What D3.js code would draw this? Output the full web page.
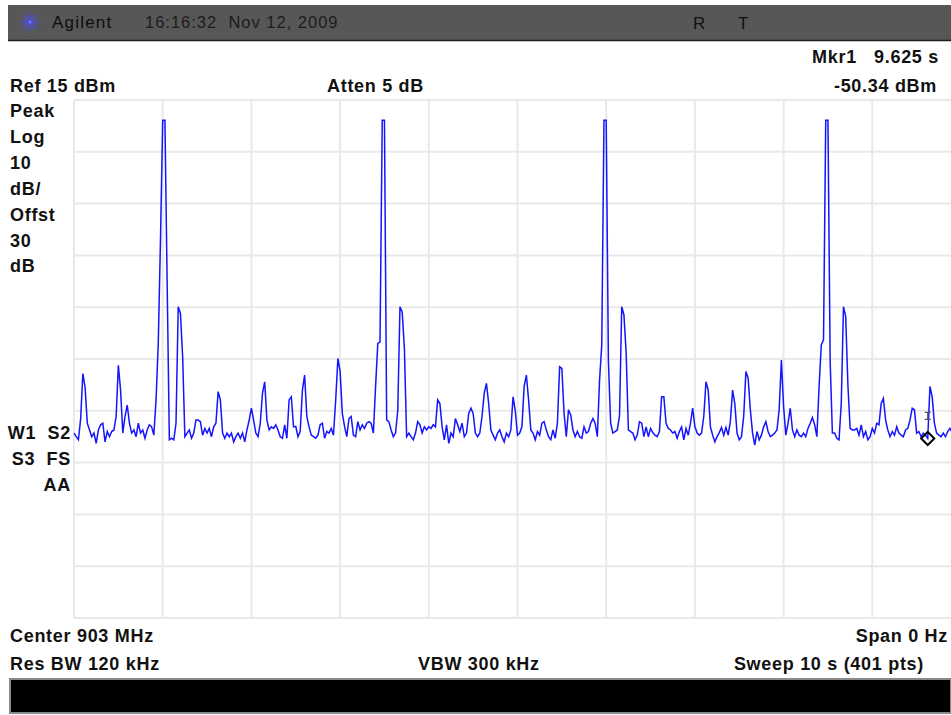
<!DOCTYPE html>
<html>
<head>
<meta charset="utf-8">
<script src="https://cdn.jsdelivr.net/npm/d3@7"></script>
<style>
  body { margin: 0; background: #ffffff; }
  svg { display: block; }
  text { font-family: "Liberation Sans", Arial, sans-serif; }
</style>
</head>
<body>
<svg id="chart" width="951" height="715"></svg>
<script>
// Zero-span sweep: 401 trace points over 10 s, amplitude in dBm
const sweepSeconds = 10;
const traceDbm = [
  -49.3, -50.0, -50.6, -46.5, -37.8, -40.5, -47.4, -48.7, -50.0, -49.3,
  -51.3, -48.7, -47.7, -47.4, -51.0, -49.0, -50.0, -49.0, -48.7, -46.1,
  -36.2, -41.0, -49.3, -46.1, -43.9, -47.4, -49.3, -48.7, -50.0, -47.4,
  -49.3, -48.7, -50.3, -48.7, -47.7, -48.1, -49.7, -42.9, -32.0, -12.0,
   11.1,  11.1, -20.1, -50.6, -50.3, -50.6, -47.4, -24.9, -26.2, -34.6,
  -50.0, -49.3, -48.7, -50.3, -49.3, -46.8, -46.8, -47.1, -49.7, -48.4,
  -49.3, -48.4, -50.0, -48.1, -47.4, -41.3, -42.9, -49.3, -50.3, -49.3,
  -50.0, -49.3, -51.0, -50.0, -49.3, -50.3, -49.3, -51.0, -48.7, -46.8,
  -44.5, -46.8, -49.3, -50.0, -47.4, -41.6, -39.4, -46.8, -48.7, -48.1,
  -48.4, -47.7, -48.7, -50.0, -50.3, -47.7, -50.3, -42.9, -42.3, -48.1,
  -48.0, -50.0, -49.0, -41.0, -38.1, -46.1, -48.1, -49.7, -50.0, -50.3,
  -49.7, -47.7, -47.4, -50.3, -49.0, -49.3, -48.4, -49.7, -43.0, -34.9,
  -37.4, -45.5, -48.0, -50.0, -46.5, -46.1, -49.7, -50.0, -47.1, -48.7,
  -47.7, -48.4, -47.4, -47.1, -47.4, -49.3, -40.3, -32.0, -31.7,  11.1,
   11.1, -46.8, -47.1, -48.7, -50.0, -49.3, -45.0, -24.9, -25.9, -33.0,
  -50.0, -49.3, -50.0, -50.6, -49.3, -47.1, -47.7, -49.3, -48.1, -48.7,
  -48.1, -48.4, -47.7, -48.1, -42.9, -43.6, -48.1, -50.6, -47.7, -51.3,
  -49.3, -50.0, -46.5, -47.7, -49.0, -47.4, -50.0, -49.3, -45.5, -44.5,
  -45.5, -49.3, -50.0, -49.3, -46.1, -41.6, -39.7, -43.6, -48.7, -49.7,
  -50.6, -49.3, -48.7, -50.0, -51.0, -49.3, -50.0, -48.7, -42.3, -45.0,
  -49.7, -49.3, -48.1, -40.3, -38.1, -42.9, -48.7, -49.3, -50.6, -49.0,
  -49.7, -47.4, -47.1, -48.7, -50.0, -50.6, -48.7, -50.3, -47.4, -36.5,
  -36.8, -45.5, -50.0, -44.8, -45.8, -48.7, -50.0, -49.0, -50.0, -50.3,
  -48.1, -49.3, -49.0, -47.4, -46.5, -47.4, -50.0, -39.1, -32.3,  11.1,
   11.1, -35.5, -47.4, -49.3, -49.0, -48.7, -46.0, -24.9, -26.5, -33.9,
  -48.7, -49.0, -49.3, -50.6, -49.7, -47.1, -47.4, -50.0, -48.1, -50.0,
  -48.4, -49.2, -49.7, -50.0, -49.0, -42.3, -42.3, -47.4, -48.4, -48.7,
  -49.3, -49.0, -50.3, -49.0, -48.1, -50.6, -48.4, -49.7, -47.4, -44.5,
  -48.1, -49.3, -49.7, -49.3, -46.1, -39.4, -41.0, -48.1, -49.7, -51.0,
  -50.0, -49.2, -48.2, -49.7, -48.2, -49.7, -47.0, -41.0, -43.6, -49.3,
  -50.6, -50.0, -46.1, -37.4, -38.7, -44.8, -49.3, -51.6, -49.0, -50.6,
  -49.7, -48.1, -47.1, -49.0, -50.0, -49.7, -49.3, -48.7, -44.8, -35.2,
  -44.2, -49.7, -47.4, -44.5, -48.7, -50.0, -48.7, -49.7, -50.0, -49.3,
  -50.0, -48.4, -47.4, -46.3, -47.7, -50.0, -40.3, -32.3, -31.3,  11.1,
   11.1, -35.5, -49.3, -49.3, -50.3, -50.6, -43.6, -24.9, -26.8, -40.0,
  -48.4, -48.7, -48.7, -48.4, -49.7, -47.7, -50.0, -49.0, -50.6, -50.0,
  -48.4, -49.3, -47.4, -47.7, -43.6, -42.6, -46.8, -48.7, -50.0, -49.0,
  -49.7, -48.1, -49.3, -49.7, -50.0, -48.7, -48.4, -46.8, -44.5, -44.8,
  -49.3, -49.0, -50.0, -49.3, -49.7, -50.34, -40.3, -42.3, -47.4, -49.3,
  -49.7, -50.0, -49.3, -50.0, -49.0, -48.4, -49.1, -50.2, -48.8, -49.6,
  -50.1
];

// Display settings
const refLevelDbm = 15;
const dbPerDivision = 10;
const divisions = 10;
const markerTime = 9.625;
const markerLevel = -50.34;

// Annotation texts
const bannerBrand = "Agilent";
const bannerStamp = "16:16:32  Nov 12, 2009";
const bannerFlags = ["R", "T"];
const refText = "Ref 15 dBm";
const attenText = "Atten 5 dB";
const markerLines = ["Mkr1   9.625 s", "-50.34 dBm"];
const scaleLines = ["Peak", "Log", "10", "dB/", "Offst", "30", "dB"];
const traceLines = ["W1  S2", "S3  FS", "AA"];
const footerLeft = ["Center 903 MHz", "Res BW 120 kHz"];
const footerMid = "VBW 300 kHz";
const footerRight = ["Span 0 Hz", "Sweep 10 s (401 pts)"];

const svg = d3.select("#chart");
const W = 951, H = 715;
const plot = { left: 74, top: 100, width: 887, height: 518 };

const x = d3.scaleLinear().domain([0, sweepSeconds]).range([plot.left, plot.left + plot.width]);
const bottomDbm = refLevelDbm - dbPerDivision * divisions;
const y = d3.scaleLinear().domain([bottomDbm, refLevelDbm]).range([plot.top + plot.height, plot.top]);
const tStep = sweepSeconds / (traceDbm.length - 1);

svg.append("rect").attr("width", W).attr("height", H).attr("fill", "#ffffff");

// Title banner
const banner = svg.append("g");
banner.append("rect").attr("x", 8).attr("y", 5).attr("width", W - 8).attr("height", 35).attr("fill", "#575757");
banner.append("line").attr("x1", 8).attr("x2", W).attr("y1", 40.5).attr("y2", 40.5)
  .attr("stroke", "#1e1e1e").attr("stroke-width", 1.5);

// Company starburst logo
const logo = banner.append("g").attr("transform", "translate(30,22)");
d3.range(16).forEach(k => {
  const a = k * Math.PI / 8;
  const r = (k % 2 === 0) ? 10.5 : 7.5;
  logo.append("line")
    .attr("x1", Math.cos(a) * 1.5).attr("y1", Math.sin(a) * 1.5)
    .attr("x2", Math.cos(a) * r).attr("y2", Math.sin(a) * r)
    .attr("stroke", "#4d4dff").attr("stroke-width", 1.3)
    .attr("stroke-dasharray", "1.6,1");
});
logo.append("circle").attr("r", 1.6).attr("fill", "#7070ff");

banner.append("text").attr("x", 52).attr("y", 28).attr("font-size", 17)
  .attr("letter-spacing", 1.2).attr("fill", "#0d0d0d").text(bannerBrand);
banner.append("text").attr("x", 145).attr("y", 28).attr("font-size", 16.5)
  .attr("letter-spacing", 1.0).attr("fill", "#1c1c1c").attr("xml:space", "preserve").text(bannerStamp);
banner.selectAll("text.flag").data(bannerFlags).join("text")
  .attr("class", "flag")
  .attr("x", (d, i) => 693 + i * 45).attr("y", 29).attr("font-size", 17)
  .attr("fill", "#111111").text(d => d);

// Bold annotation helper
function label(txt, px, py, anchor) {
  return svg.append("text").attr("x", px).attr("y", py)
    .attr("font-size", 18).attr("font-weight", "bold").attr("fill", "#111111")
    .attr("letter-spacing", 0.7)
    .attr("text-anchor", anchor || "start").attr("xml:space", "preserve").text(txt);
}

label(refText, 10, 92);
label(attenText, 327, 92);
label(markerLines[0], 939, 63, "end");
label(markerLines[1], 937, 92, "end");
scaleLines.forEach((t, i) => label(t, 10, 117 + i * 25.9));
label(traceLines[0], 71, 439, "end");
label(traceLines[1], 71, 465, "end");
label(traceLines[2], 71, 491, "end");
label(footerLeft[0], 10, 642);
label(footerLeft[1], 10, 670);
label(footerMid, 418, 670);
label(footerRight[0], 948, 642, "end");
label(footerRight[1], 924, 670, "end");

// Graticule
const grid = svg.append("g").attr("stroke", "#e9e9e9").attr("stroke-width", 2);
grid.selectAll("line.v").data(d3.range(0, sweepSeconds + 0.001, sweepSeconds / divisions)).join("line")
  .attr("class", "v")
  .attr("x1", d => x(d)).attr("x2", d => x(d))
  .attr("y1", y(refLevelDbm)).attr("y2", y(bottomDbm));
grid.selectAll("line.h").data(d3.range(bottomDbm, refLevelDbm + 0.001, dbPerDivision)).join("line")
  .attr("class", "h")
  .attr("x1", x(0)).attr("x2", x(sweepSeconds))
  .attr("y1", d => y(d)).attr("y2", d => y(d));

// Trace
const line = d3.line()
  .x((d, i) => x(i * tStep))
  .y(d => y(d));
svg.append("path").datum(traceDbm)
  .attr("d", line)
  .attr("fill", "none")
  .attr("stroke", "#1414ff")
  .attr("stroke-width", 1.5)
  .attr("stroke-linejoin", "miter");

// Marker 1
const mx = x(markerTime), my = y(markerLevel);
svg.append("path")
  .attr("d", d3.symbol().type(d3.symbolDiamond2).size(110)())
  .attr("transform", `translate(${mx},${my})`)
  .attr("fill", "none").attr("stroke", "#000000").attr("stroke-width", 2);
svg.append("path")
  .attr("d", `M${mx - 3},${my - 26}h6M${mx},${my - 26}v7M${mx - 3},${my - 19}h6`)
  .attr("stroke", "#555555").attr("stroke-width", 1.3).attr("fill", "none");

// Lower status bar
svg.append("rect").attr("x", 10).attr("y", 679).attr("width", W - 10).attr("height", 34)
  .attr("fill", "#000000").attr("stroke", "#8a8a8a").attr("stroke-width", 2);
</script>
</body>
</html>
